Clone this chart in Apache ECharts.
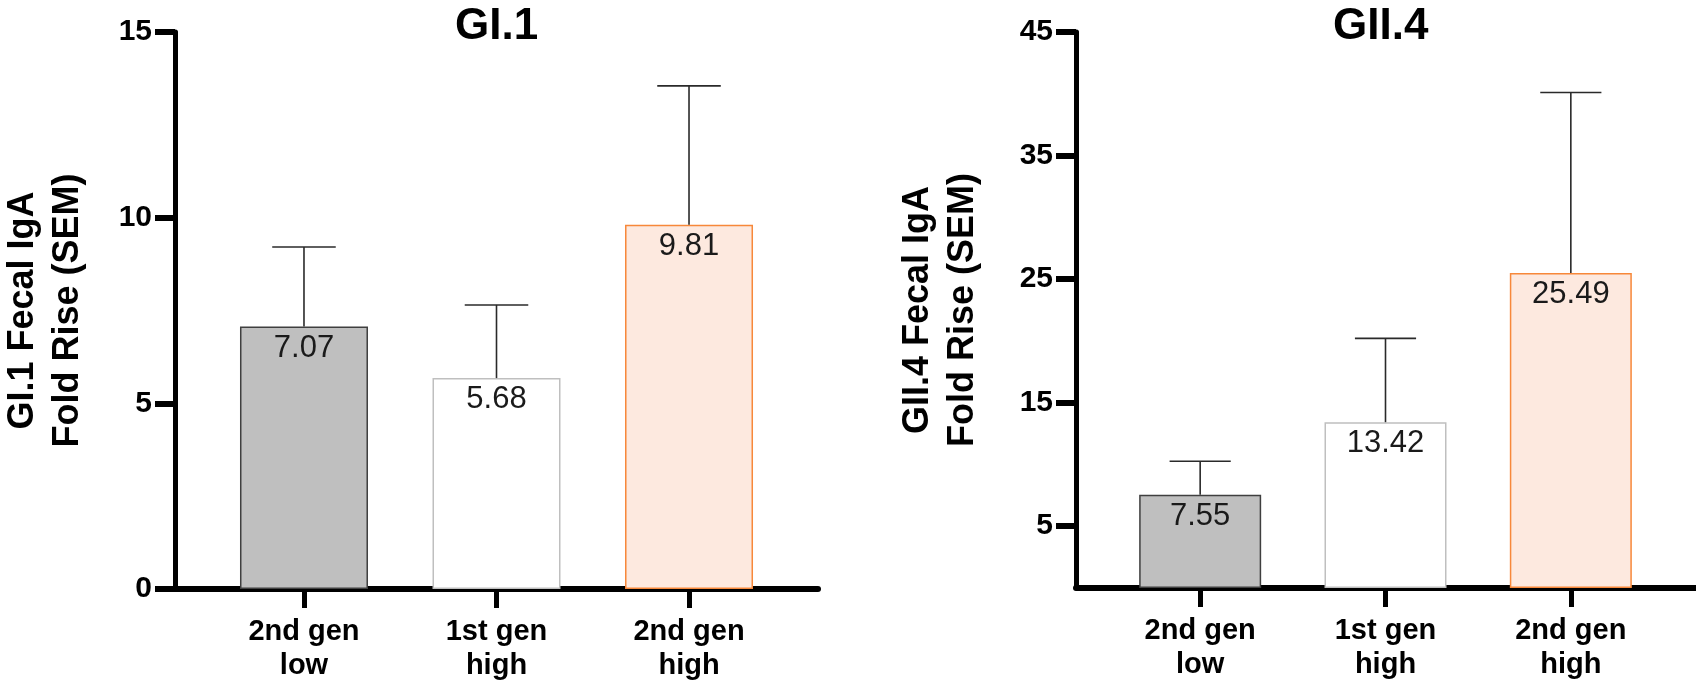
<!DOCTYPE html>
<html><head><meta charset="utf-8">
<script src="https://cdn.jsdelivr.net/npm/echarts@6/dist/echarts.min.js"></script>
<style>html,body{margin:0;padding:0;background:#fff}#c{width:1696px;height:685px}</style>
</head><body><div id="c"></div>
<script>
const categories = ['2nd gen\nlow', '1st gen\nhigh', '2nd gen\nhigh'];
const gi1Means = [7.07, 5.68, 9.81];
const gi1Upper = [9.21, 7.65, 13.55];
const gii4Means = [7.55, 13.42, 25.49];
const gii4Upper = [10.26, 20.2, 40.1];
const gi1Ticks = [0, 5, 10, 15];
const gii4Ticks = [5, 15, 25, 35, 45];
const titles = ['GI.1', 'GII.4'];
const yNames = ['GI.1 Fecal IgA\nFold Rise (SEM)', 'GII.4 Fecal IgA\nFold Rise (SEM)'];

const FONT = 'Liberation Sans, Arial, sans-serif';
const barStyles = [
  {color: '#bfbfbf', borderColor: '#3f3f3f'},
  {color: '#ffffff', borderColor: '#bfbfbf'},
  {color: '#fde9df', borderColor: '#f7883a'}
];
const catIdx = categories.map((c, i) => i);

function xAxisOpt(gridIndex) {
  return {
    type: 'value', gridIndex, min: -0.67, max: 2.67,
    splitLine: {show: false},
    axisLine: {show: true, onZero: false, lineStyle: {color: '#000', width: 6}},
    axisTick: {show: true, customValues: catIdx, length: 19, lineStyle: {color: '#000', width: 5}},
    axisLabel: {customValues: catIdx, formatter: v => categories[Math.round(v)],
      fontFamily: FONT, fontWeight: 'bold', fontSize: 29, lineHeight: 34, color: '#000', margin: 26}
  };
}
function yAxisOpt(gridIndex, max, ticks, name, gap) {
  return {
    type: 'value', gridIndex, min: 0, max,
    name, nameLocation: 'middle', nameGap: gap, nameRotate: 90,
    nameTextStyle: {fontFamily: FONT, fontWeight: 'bold', fontSize: 36, lineHeight: 45, color: '#000'},
    splitLine: {show: false},
    axisLine: {show: true, onZero: false, lineStyle: {color: '#000', width: 5}},
    axisTick: {show: true, customValues: ticks, length: 20, lineStyle: {color: '#000', width: 6}},
    axisLabel: {customValues: ticks, fontFamily: FONT, fontWeight: 'bold', fontSize: 30, color: '#000', margin: 23}
  };
}
function barSeries(idx, means, width) {
  return {
    type: 'bar', xAxisIndex: idx, yAxisIndex: idx, barWidth: width,
    data: means.map((v, i) => ({value: [i, v], itemStyle: Object.assign({borderWidth: 1.5}, barStyles[i])})),
    label: {show: true, position: 'insideTop', distance: 6, formatter: p => p.value[1].toFixed(2),
      fontFamily: FONT, fontSize: 31, color: '#1a1a1a'},
    z: 2
  };
}
function errSeries(idx, means, upper) {
  return {
    type: 'custom', xAxisIndex: idx, yAxisIndex: idx, z: 3,
    data: upper.map((u, i) => [i, means[i], u]),
    renderItem: (params, api) => {
      const x = api.value(0);
      const top = api.coord([x, api.value(1)]);
      const cap = api.coord([x, api.value(2)]);
      const half = api.size([1, 0])[0] * 0.165;
      const st = {stroke: '#2a2a2a', lineWidth: 1.6};
      return {type: 'group', children: [
        {type: 'line', shape: {x1: top[0], y1: top[1], x2: cap[0], y2: cap[1]}, style: st},
        {type: 'line', shape: {x1: cap[0] - half, y1: cap[1], x2: cap[0] + half, y2: cap[1]}, style: st}
      ]};
    }
  };
}

const chart = echarts.init(document.getElementById('c'));
chart.setOption({
  backgroundColor: '#fff',
  animation: false,
  title: [
    {text: titles[0], left: 450, top: 0, textStyle: {fontFamily: FONT, fontWeight: 'bold', fontSize: 44, color: '#000'}},
    {text: titles[1], left: 1328, top: 0, textStyle: {fontFamily: FONT, fontWeight: 'bold', fontSize: 44, color: '#000'}}
  ],
  grid: [
    {left: 173, right: 878, top: 32, bottom: 96},
    {left: 1076, right: 1, top: 32, bottom: 97}
  ],
  xAxis: [xAxisOpt(0), xAxisOpt(1)],
  yAxis: [
    yAxisOpt(0, 15, gi1Ticks, yNames[0], 84),
    yAxisOpt(1, 45, gii4Ticks, yNames[1], 90)
  ],
  series: [
    barSeries(0, gi1Means, 128),
    errSeries(0, gi1Means, gi1Upper),
    barSeries(1, gii4Means, 122),
    errSeries(1, gii4Means, gii4Upper)
  ]
});
</script></body></html>
